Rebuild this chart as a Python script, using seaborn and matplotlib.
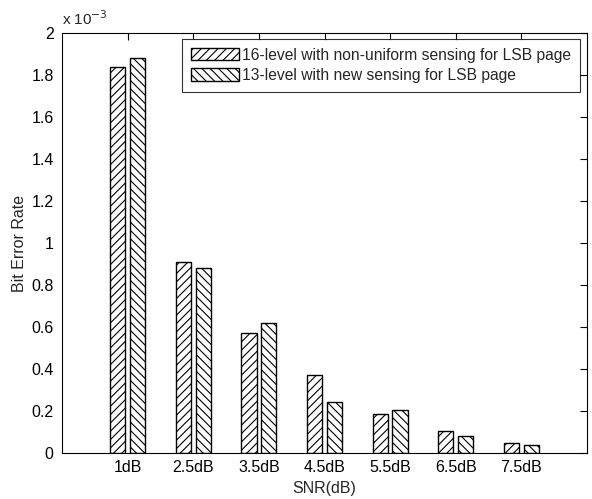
import matplotlib
matplotlib.use("Agg")
import matplotlib.pyplot as plt
import seaborn as sns
import pandas as pd
from matplotlib.patches import Patch
from matplotlib.ticker import FuncFormatter, MultipleLocator

categories = ["1dB", "2.5dB", "3.5dB", "4.5dB", "5.5dB", "6.5dB", "7.5dB"]
series_names = ["16-level with non-uniform sensing for LSB page",
                "13-level with new sensing for LSB page"]
ber_16level = [1.84e-3, 0.91e-3, 0.57e-3, 0.37e-3, 0.188e-3, 0.105e-3, 0.048e-3]
ber_13level = [1.88e-3, 0.88e-3, 0.62e-3, 0.245e-3, 0.205e-3, 0.082e-3, 0.040e-3]

df = pd.DataFrame({
    "SNR": categories * 2,
    "BER": ber_16level + ber_13level,
    "series": [series_names[0]] * len(categories) + [series_names[1]] * len(categories),
})

sns.set_style("white")
plt.rcParams["font.family"] = ["Liberation Sans", "DejaVu Sans"]
plt.rcParams["hatch.linewidth"] = 0.8

fig = plt.figure(figsize=(5.92, 4.99), dpi=100)
ax = fig.add_axes([62 / 592, 1 - 453 / 499, 525 / 592, 420 / 499])

sns.barplot(data=df, x="SNR", y="BER", hue="series", order=categories,
            hue_order=series_names, palette=["white", "white"],
            width=0.6, gap=0.23, edgecolor="black", linewidth=1.0,
            legend=False, ax=ax)

hatches = ["////", "\\\\\\\\"]
n = len(categories)
for i, patch in enumerate(ax.patches[:2 * n]):
    patch.set_hatch(hatches[i // n])
    patch.set_edgecolor("black")

ax.set_xlim(-1, n)
ax.set_ylim(0, 2e-3)
ax.yaxis.set_major_locator(MultipleLocator(0.2e-3))
ax.yaxis.set_major_formatter(FuncFormatter(lambda v, p: "%g" % round(v / 1e-3, 6)))
ax.text(0.0, 1.012, r"x 10$^{-3}$", transform=ax.transAxes, fontsize=11,
        ha="left", va="bottom")

for s in ax.spines.values():
    s.set_visible(True)
    s.set_color("black")
    s.set_linewidth(0.8)

ax.tick_params(axis="both", which="both", direction="in", top=True, right=True,
               length=5, width=0.8, labelsize=11.5, colors="black", pad=5)
ax.tick_params(axis="y", pad=6)
ax.set_xlabel("SNR(dB)", fontsize=11.5, labelpad=4.5)
ax.set_ylabel("Bit Error Rate", fontsize=11.5, labelpad=3)

handles = [Patch(facecolor="white", edgecolor="black", hatch=hatches[0]),
           Patch(facecolor="white", edgecolor="black", hatch=hatches[1])]
leg = ax.legend(handles, series_names, loc="upper right", fontsize=11.25,
                frameon=True, fancybox=False, edgecolor="black",
                bbox_to_anchor=(0.9867, 0.9857), handlelength=3.1,
                handleheight=0.85, handletextpad=0.2, borderpad=0.55,
                labelspacing=0.35, borderaxespad=0.0)
leg.get_frame().set_linewidth(0.8)

fig.savefig("out.png", dpi=100, facecolor="white")
